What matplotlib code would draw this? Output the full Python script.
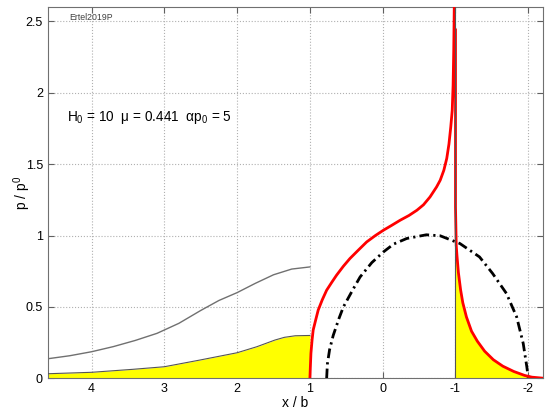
import numpy as np
import matplotlib
matplotlib.use("Agg")
import matplotlib.pyplot as plt

plt.rcParams["font.family"] = ["Liberation Sans", "DejaVu Sans"]
plt.rcParams["mathtext.fontset"] = "custom"
plt.rcParams["mathtext.rm"] = "Liberation Sans"
plt.rcParams["mathtext.it"] = "Liberation Sans"

# gray curve (outer, left of contact)
gray_x = [4.6, 4.3, 4.0, 3.7, 3.4, 3.1, 2.8, 2.5, 2.25, 2.0, 1.75, 1.5, 1.25, 1.0]
gray_y = [0.137, 0.158, 0.186, 0.222, 0.265, 0.315, 0.385, 0.475, 0.545, 0.60,
          0.665, 0.725, 0.765, 0.78]

# yellow filled region (left)
fill_left_x = [4.6, 4.0, 3.43, 3.0, 2.51, 2.0, 1.73, 1.48, 1.35, 1.2, 1.0]
fill_left_y = [0.032, 0.042, 0.063, 0.081, 0.128, 0.179, 0.221, 0.268, 0.287,
               0.298, 0.30]

# red pressure curve (NaN = jump at the spike)
red_x = [1.0, 0.993, 0.986, 0.97, 0.955, 0.92, 0.886, 0.83, 0.77, 0.70, 0.634,
         0.54, 0.45, 0.33, 0.22, 0.10, -0.01, -0.12, -0.24, -0.36, -0.47, -0.56,
         -0.65, -0.74, -0.79, -0.84, -0.88, -0.91, -0.935, -0.955, -0.967, -0.976,
         -0.983, -0.99, np.nan, -1.0, -1.0, -1.01, -1.02, -1.04, -1.07, -1.1,
         -1.15, -1.22, -1.3, -1.4, -1.52, -1.65, -1.8, -1.95, -2.05, -2.2]
red_y = [0.0, 0.09, 0.175, 0.27, 0.338, 0.41, 0.478, 0.55, 0.617, 0.672, 0.722,
         0.785, 0.839, 0.90, 0.955, 1.0, 1.037, 1.07, 1.107, 1.14, 1.177, 1.215,
         1.27, 1.34, 1.387, 1.457, 1.54, 1.64, 1.76, 1.876, 2.05, 2.3,
         2.6, 2.9, np.nan, 2.44, 1.2, 0.93, 0.86, 0.74, 0.62, 0.53,
         0.43, 0.33, 0.26, 0.19, 0.13, 0.085, 0.048, 0.02, 0.008, 0.001]

# yellow filled region (right)
fill_right_x = [-1.0, -1.0, -1.01, -1.02, -1.04, -1.07, -1.1, -1.15, -1.22, -1.3,
                -1.4, -1.52, -1.65, -1.8, -1.95, -2.05, -2.2]
fill_right_y = [0.0, 0.95, 0.93, 0.86, 0.74, 0.62, 0.53, 0.43, 0.33, 0.26,
                0.19, 0.13, 0.085, 0.048, 0.02, 0.008, 0.001]

# dash-dot Hertz curve
hertz_x = [0.77, 0.76, 0.73, 0.68, 0.6, 0.54, 0.4, 0.31, 0.15, -0.01, -0.15,
           -0.33, -0.6, -0.79, -1.06, -1.33, -1.51, -1.7, -1.84, -1.93, -1.98, -2.0]
hertz_y = [0.0, 0.10, 0.20, 0.30, 0.42, 0.50, 0.63, 0.71, 0.81, 0.885, 0.94,
           0.979, 1.005, 0.998, 0.944, 0.85, 0.734, 0.594, 0.43, 0.245, 0.08, 0.0]

xticks = [4, 3, 2, 1, 0, -1, -2]
yticks = [0, 0.5, 1, 1.5, 2, 2.5]

fig = plt.figure(figsize=(5.5, 4.13), dpi=100)
ax = fig.add_axes([0.087, 0.084, 0.9, 0.899])

ax.fill_between(fill_left_x, fill_left_y, 0, color="#ffff00", linewidth=0, zorder=2)
ax.plot(fill_left_x, fill_left_y, color="#555555", linewidth=0.8, zorder=3)
ax.fill_between(fill_right_x, fill_right_y, 0, color="#ffff00", linewidth=0, zorder=2)

ax.plot(gray_x, gray_y, color="#707070", linewidth=1.0, zorder=3)
ax.plot(hertz_x, hertz_y, color="black", linewidth=2.0,
        linestyle=(0, (3.5, 1.5, 0.8, 1.5)), zorder=4)
ax.plot(red_x, red_y, color="#ff0000", linewidth=2.0, zorder=5)
ax.vlines(-1.0, 0, 2.6, color="#555555", linewidth=0.8, zorder=6)

ax.set_xlim(4.6, -2.2)
ax.set_ylim(0, 2.6)
ax.set_xticks(xticks)
ax.set_xticklabels([str(t) for t in xticks])
ax.set_yticks(yticks)
ax.set_yticklabels(["0", "0.5", "1", "1.5", "2", "2.5"])
ax.tick_params(direction="in", top=True, right=True, labelsize=9, length=4,
               color="#606060")
for s in ax.spines.values():
    s.set_color("#707070")
ax.grid(True, linestyle=":", color="#b0b0b0", linewidth=0.8, zorder=0)
ax.set_axisbelow(True)

ax.set_xlabel("x / b", fontsize=10)
ax.set_ylabel("p / p$^0$", fontsize=10)
ax.xaxis.set_label_coords(0.5, -0.048)
ax.yaxis.set_label_coords(-0.03, 0.5)

ax.text(4.30, 2.51, "Ertel2019P", fontsize=6.3, color="#404040")
ax.text(4.34, 1.80, "H$_0$ = 10  μ = 0.441  αp$_0$ = 5", fontsize=9.8)

fig.savefig("out.png", dpi=100)
